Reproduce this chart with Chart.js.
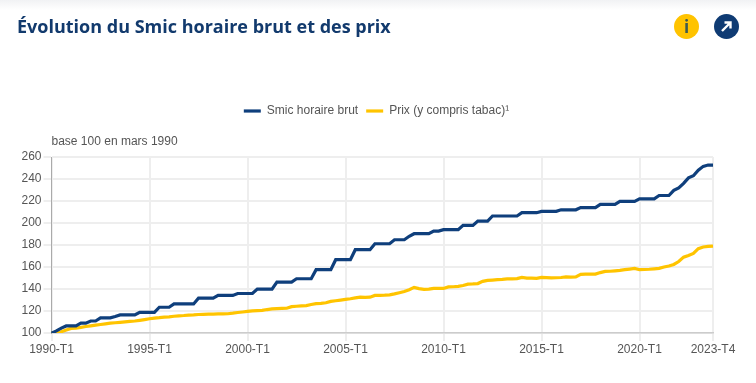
<!DOCTYPE html>
<html lang="fr">
<head>
<meta charset="utf-8">
<title>Évolution du Smic horaire brut et des prix</title>
<script src="https://cdn.jsdelivr.net/npm/chart.js@4"></script>
<style>
  html, body { margin: 0; padding: 0; background: #fff; }
  #page { position: relative; width: 756px; height: 383px; overflow: hidden; }
  #shade { position: absolute; left: 0; top: 0; width: 756px; height: 10px; background: linear-gradient(#f1f2f4, #fff); }
  h1 { position: absolute; left: 17px; top: 14px; margin: 0; font: 700 18px "Open Sans", sans-serif; color: #123a6d; white-space: nowrap; }
  .icon { position: absolute; top: 14px; width: 25px; height: 25px; border-radius: 50%; text-align: center; }
  #info { left: 674px; background: #ffc300; color: #3d5a50; font: 700 17px/25px "Open Sans", sans-serif; }
  #link { left: 714px; background: #0f3b73; }
  canvas { position: absolute; left: 0; top: 0; }
</style>
</head>
<body>
<div id="page">
  <div id="shade"></div>
  <canvas id="chart" width="756" height="383"></canvas>
  <h1>Évolution du Smic horaire brut et des prix</h1>
  <div class="icon" id="info">i</div>
  <div class="icon" id="link">
    <svg width="25" height="25" viewBox="0 0 25 25"><path d="M8 17 L16 9 M10.5 8.5 H16.5 V14.5" fill="none" stroke="#fff" stroke-width="2.4"/></svg>
  </div>
</div>
<script>
const startYear = 1990;
const endYear = 2023;
const tickLabels = ['1990-T1', '1995-T1', '2000-T1', '2005-T1', '2010-T1', '2015-T1', '2020-T1', '2023-T4'];

// one row per year, four quarters
const smic = [
    100, 102, 104.5, 106.5,
    106.5, 106.5, 109, 109,
    111, 111, 113.8, 113.8,
    113.8, 115, 116.5, 116.5,
    116.5, 116.5, 118.9, 118.9,
    118.9, 118.9, 123.5, 123.5,
    123.5, 126.5, 126.5, 126.5,
    126.5, 126.5, 131.7, 131.7,
    131.7, 131.7, 134.2, 134.2,
    134.2, 134.2, 136, 136,
    136, 136, 140, 140,
    140, 140, 146.4, 146.4,
    146.4, 146.4, 149.4, 149.4,
    149.4, 149.4, 157.6, 157.6,
    157.6, 157.6, 166.7, 166.7,
    166.7, 166.7, 175.8, 175.8,
    175.8, 175.8, 181.2, 181.2,
    181.2, 181.2, 184.8, 184.8,
    184.8, 188, 190.3, 190.3,
    190.3, 190.3, 192.7, 192.7,
    194, 194, 194, 194,
    197.9, 197.9, 197.9, 201.8,
    201.8, 201.8, 206.4, 206.4,
    206.4, 206.4, 206.4, 206.4,
    209.4, 209.4, 209.4, 209.4,
    210.6, 210.6, 210.6, 210.6,
    212, 212, 212, 212,
    214, 214, 214, 214,
    217, 217, 217, 217,
    219.7, 219.7, 219.7, 219.7,
    222, 222, 222, 222,
    225, 225, 225, 229.7,
    232, 236, 241, 243,
    248, 251.5, 252.7, 252.7
];

const prix = [
    100, 100.5, 101.2, 102.8,
    104.3, 104.6, 105.2, 106,
    106.6, 107.2, 107.8, 108.4,
    109, 109.4, 109.8, 110.2,
    110.6, 111, 111.6, 112.3,
    113, 113.6, 114, 114.5,
    114.8, 115.3, 115.7, 116,
    116.4, 116.6, 116.9, 117.1,
    117.3, 117.2, 117.4, 117.5,
    117.6, 118.1, 118.7, 119.2,
    119.7, 120.2, 120.4, 120.6,
    121.4, 122, 122.2, 122.4,
    122.6, 124, 124.4, 124.7,
    125, 126, 126.7, 127,
    127.6, 128.8, 129.4, 130,
    130.6, 131.2, 132, 132.7,
    132.5, 132.6, 134.2, 134.3,
    134.5, 134.8, 135.6, 136.7,
    137.8, 139.4, 141.5, 140.4,
    139.7, 140, 140.6, 140.6,
    140.6, 142, 142.1, 142.4,
    143.2, 144.5, 144.7, 145,
    147, 147.9, 148.2, 148.5,
    148.8, 149.2, 149.3, 149.5,
    150.6, 150, 149.9, 149.8,
    150.6, 150.4, 150.2, 150.3,
    150.5, 151, 150.9, 151,
    153.3, 153.5, 153.5, 153.6,
    155, 156, 156.2, 156.6,
    157, 157.6, 158.2, 158.8,
    157.6, 157.8, 158, 158.4,
    158.8, 160, 161, 162.4,
    165, 169, 170.6, 172.4,
    176.7, 178.2, 178.8, 179
];

const quarters = [];
for (let y = startYear; y <= endYear; y++) {
    for (let t = 1; t <= 4; t++) quarters.push(y + '-T' + t);
}

// "base 100" note sits over the y axis
const baseNote = {
    id: 'baseNote',
    afterDraw(chart) {
        const ctx = chart.ctx;
        ctx.save();
        ctx.font = '12px "Liberation Sans", Arial, sans-serif';
        ctx.fillStyle = '#555';
        ctx.textBaseline = 'alphabetic';
        ctx.fillText('base 100 en mars 1990', chart.chartArea.left, 145);
        ctx.restore();
    }
};

// room between the legend and the plot, and legend centred a bit right of the plot
const legendGap = {
    id: 'legendGap',
    beforeInit(chart) {
        const fit = chart.legend.fit;
        chart.legend.fit = function () {
            fit.call(this);
            this.height += 30;
        };
    },
    afterLayout(chart) {
        chart.legend.left = 0;
        chart.legend.right = 753;
    }
};

new Chart(document.getElementById('chart'), {
    type: 'line',
    data: {
        labels: quarters,
        datasets: [
            { label: 'Smic horaire brut', data: smic, borderColor: '#0f3f7c', backgroundColor: '#0f3f7c', borderWidth: 3.2, pointRadius: 0, tension: 0 },
            { label: 'Prix (y compris tabac)¹', data: prix, borderColor: '#ffc400', backgroundColor: '#ffc400', borderWidth: 3.2, pointRadius: 0, tension: 0 }
        ]
    },
    plugins: [baseNote, legendGap],
    options: {
        responsive: false,
        animation: false,
        layout: { padding: { top: 97, left: 0, right: 43, bottom: 24.5 } },
        plugins: {
            legend: {
                position: 'top',
                labels: {
                    usePointStyle: true,
                    pointStyle: 'line',
                    pointStyleWidth: 17,
                    boxHeight: 12,
                    padding: 8,
                    color: '#555',
                    font: { family: '"Liberation Sans", Arial, sans-serif', size: 12 }
                }
            },
            tooltip: { enabled: false }
        },
        scales: {
            x: {
                grid: { color: '#eeeeee', lineWidth: 2, tickLength: 8 },
                border: { color: '#cccccc', width: 1.5 },
                afterBuildTicks(scale) {
                    scale.ticks = tickLabels.map(l => ({ value: quarters.indexOf(l) }));
                },
                ticks: {
                    autoSkip: false,
                    maxRotation: 0,
                    color: '#555',
                    padding: 1.5,
                    font: { family: '"Liberation Sans", Arial, sans-serif', size: 12 },
                    callback(value) { return quarters[value]; }
                }
            },
            y: {
                min: 100,
                max: 260,
                afterFit(scale) { scale.width = 51.5; },
                grid: { color: '#eeeeee', lineWidth: 2, tickLength: 8 },
                border: { color: '#aaaaaa', width: 1 },
                ticks: {
                    stepSize: 20,
                    color: '#555',
                    padding: 2,
                    font: { family: '"Liberation Sans", Arial, sans-serif', size: 12 }
                }
            }
        }
    }
});
</script>
</body>
</html>
